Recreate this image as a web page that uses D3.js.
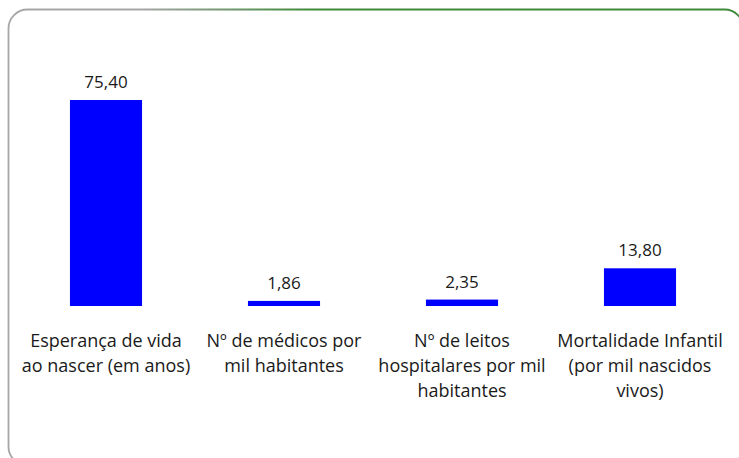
<!DOCTYPE html>
<html>
<head>
<meta charset="utf-8">
<script src="https://cdn.jsdelivr.net/npm/d3@7"></script>
<style>
  body { margin:0; background:#fff; }
  svg text { font-family:"Open Sans", sans-serif; fill:#1a1a1a; }
</style>
</head>
<body>
<svg id="graph"></svg>
<script>
var categories = [
    ["Esperança de vida", "ao nascer (em anos)"],
    ["Nº de médicos por", "mil habitantes"],
    ["Nº de leitos", "hospitalares por mil", "habitantes"],
    ["Mortalidade Infantil", "(por mil nascidos", "vivos)"]
];
var values = [75.40, 1.86, 2.35, 13.80];
var valueLabels = ["75,40", "1,86", "2,35", "13,80"];

var screen = {width:739, height:458};
var baseline = 306;

var svg = d3.select("#graph")
    .attr("width", screen.width)
    .attr("height", screen.height);

// rounded frame, gray fading to green along the top
var defs = svg.append("defs");
var grad = defs.append("linearGradient")
    .attr("id", "frameGrad")
    .attr("gradientUnits", "userSpaceOnUse")
    .attr("x1", 140).attr("y1", 0)
    .attr("x2", 310).attr("y2", 0);
grad.append("stop").attr("offset", 0).attr("stop-color", "#a6a6a6");
grad.append("stop").attr("offset", 1).attr("stop-color", "#3f8a3a");

svg.append("rect")
    .attr("x", 8.5)
    .attr("y", 9.5)
    .attr("width", 735)
    .attr("height", 456)
    .attr("rx", 19)
    .attr("ry", 19)
    .attr("fill", "none")
    .attr("stroke", "url(#frameGrad)")
    .attr("stroke-width", 1.8);

var xScale = d3.scaleBand()
    .domain(d3.range(values.length))
    .range([17, 729])
    .paddingInner(0.595)
    .paddingOuter(0.2975);

var yScale = d3.scaleLinear()
    .domain([0, 75.4])
    .range([baseline, 100]);

var g = svg.append("g").classed("graph", true);

g.selectAll("rect.bar")
    .data(values)
    .enter()
    .append("rect")
    .classed("bar", true)
    .attr("x", function(d, i) { return xScale(i); })
    .attr("y", function(d) { return yScale(d); })
    .attr("width", xScale.bandwidth())
    .attr("height", function(d) { return baseline - yScale(d); })
    .attr("fill", "#0000ff");

g.selectAll("text.value")
    .data(values)
    .enter()
    .append("text")
    .classed("value", true)
    .attr("text-anchor", "middle")
    .attr("font-size", 17)
    .attr("x", function(d, i) { return xScale(i) + xScale.bandwidth()/2; })
    .attr("y", function(d) { return yScale(d) - 12; })
    .text(function(d, i) { return valueLabels[i]; });

var labels = g.selectAll("text.cat")
    .data(categories)
    .enter()
    .append("text")
    .classed("cat", true)
    .attr("text-anchor", "middle")
    .attr("font-size", 18)
    .attr("x", function(d, i) { return xScale(i) + xScale.bandwidth()/2; })
    .attr("y", 347);

labels.selectAll("tspan")
    .data(function(d, i) { return d.map(function(line) { return {line:line, i:i}; }); })
    .enter()
    .append("tspan")
    .attr("x", function(d) { return xScale(d.i) + xScale.bandwidth()/2; })
    .attr("dy", function(d, j) { return j == 0 ? 0 : 25; })
    .text(function(d) { return d.line; });
</script>
</body>
</html>
